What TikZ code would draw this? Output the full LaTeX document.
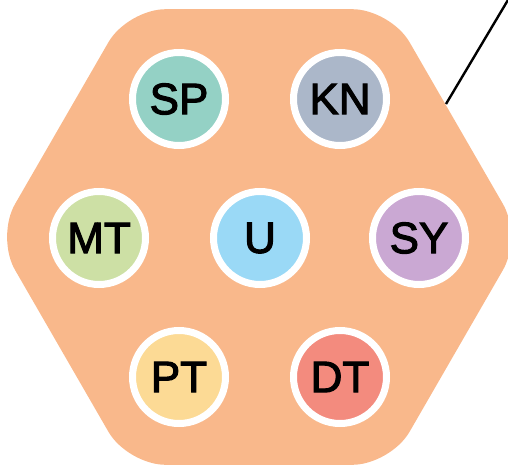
\documentclass[tikz,border=0pt]{standalone}
\usepackage{fontspec}
\setmainfont{Liberation Sans}
\newfontfamily\labelfont[FakeBold=2.5]{Liberation Sans}
\definecolor{hexfill}{HTML}{F9B88B}
\definecolor{cSP}{HTML}{94D1C5}
\definecolor{cKN}{HTML}{ABB7C9}
\definecolor{cMT}{HTML}{CDE0A5}
\definecolor{cU}{HTML}{9AD9F6}
\definecolor{cSY}{HTML}{CAA8D3}
\definecolor{cPT}{HTML}{FCDA95}
\definecolor{cDT}{HTML}{F38B7E}
\tikzset{
  member/.style={circle, draw=white, line width=7pt, minimum size=93pt, inner sep=0pt,
    font=\labelfont\fontsize{44}{44}\selectfont},
  hexagonbox/.style={fill=hexfill, rounded corners=38pt},
  pointer/.style={draw=black, line width=2.4pt}
}
\begin{document}
\begin{tikzpicture}[x=1pt, y=-1pt]
\useasboundingbox (0,0) rectangle (508,468);
\fill[hexagonbox] (-4,237) -- (127.5,9.2) -- (390.5,9.2) -- (522,237) -- (390.5,464.8) -- (127.5,464.8) -- cycle;
\node[member, fill=cSP] (SP) at (179,99) {SP};
\node[member, fill=cKN] (KN) at (340,99) {KN};
\node[member, fill=cMT] (MT) at (99,238) {MT};
\node[member, fill=cU]  (U)  at (260,238) {U};
\node[member, fill=cSY] (SY) at (419,238) {SY};
\node[member, fill=cPT] (PT) at (179,377) {PT};
\node[member, fill=cDT] (DT) at (340,377) {DT};
\coordinate (hexedge) at (446,104);
\coordinate (farend) at (510,-3.4);
\draw[pointer] (hexedge) -- (farend);
\end{tikzpicture}
\end{document}
